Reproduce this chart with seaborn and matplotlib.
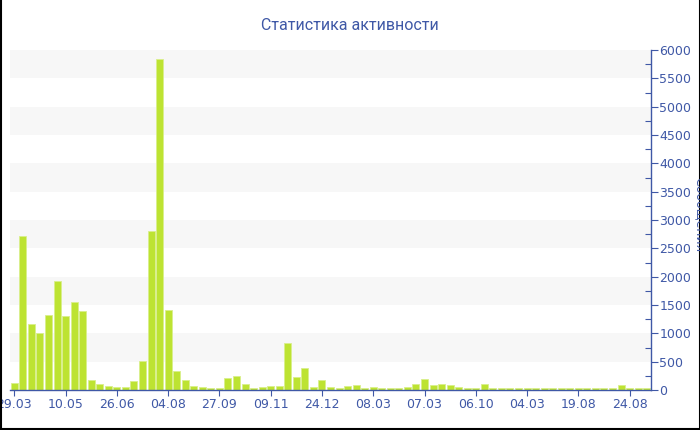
import matplotlib
matplotlib.use("Agg")
import matplotlib.pyplot as plt
from matplotlib.lines import Line2D
from matplotlib.ticker import MultipleLocator
import seaborn as sns
import pandas as pd

# ---- data ----
values = [130, 2720, 1165, 1000, 1318, 1923, 1300, 1547, 1394, 176,
          100, 70, 45, 45, 165, 512, 2806, 5841, 1418, 335,
          170, 76, 53, 35, 35, 218, 247, 100, 40, 53,
          65, 70, 829, 229, 382, 53, 170, 47, 40, 70,
          88, 35, 53, 35, 30, 32, 59, 100, 188, 82,
          100, 80, 56, 38, 30, 106, 40, 32, 32, 30,
          30, 36, 32, 30, 30, 30, 36, 32, 30, 30,
          30, 88, 32, 36, 32]
periods = list(range(len(values)))
tick_positions = [0, 6, 12, 18, 24, 30, 36, 42, 48, 54, 60, 66, 72]
tick_labels = ["29.03", "10.05", "26.06", "04.08", "27.09", "09.11", "24.12",
               "08.03", "07.03", "06.10", "04.03", "19.08", "24.08"]
title = "Статистика активности"
ylabel = "Сообщения"

# ---- style ----
sns.set_theme(style="white")
plt.rcParams["font.family"] = ["DejaVu Sans"]
TXT = "#3f58a6"
BAR = "#bde332"
EDGE = "#d9ef8c"

df = pd.DataFrame({"period": periods, "value": values})

fig = plt.figure(figsize=(7.0, 4.3), dpi=100)
ax = fig.add_axes([10 / 700, 1 - 390 / 430, 641 / 700, 340 / 430])

for lo in range(500, 6000, 1000):
    ax.axhspan(lo, lo + 500, color="#f7f7f7", zorder=0, lw=0)

sns.barplot(data=df, x="period", y="value", color=BAR, ax=ax, width=0.82,
            edgecolor=EDGE, linewidth=0.6, saturation=1, zorder=2)

ax.set_xlim(-0.5, len(values) - 0.5)
ax.set_ylim(0, 6000)
ax.set_xticks(tick_positions)
ax.set_xticklabels(tick_labels)
ax.set_xlabel("")
ax.set_ylabel("")

ax.yaxis.tick_right()
ax.yaxis.set_major_locator(MultipleLocator(500))
ax.yaxis.set_minor_locator(MultipleLocator(250))
ax.tick_params(axis="y", which="major", direction="out", length=5, width=0.8,
               color=TXT, labelcolor=TXT, labelsize=9, pad=1, left=False, right=True)
ax.tick_params(axis="y", which="minor", direction="in", length=4, width=0.8,
               color=TXT, left=False, right=True)
ax.tick_params(axis="x", which="major", direction="out", length=4, width=0.8,
               color=TXT, labelcolor=TXT, labelsize=9, pad=2, bottom=True)

for s in ["left", "top"]:
    ax.spines[s].set_visible(False)
for s in ["right", "bottom"]:
    ax.spines[s].set_color(TXT)
    ax.spines[s].set_linewidth(1.0)
ax.set_facecolor("white")

fig.text(0.5, 1 - 25 / 430, title, ha="center", va="center", color=TXT,
         fontsize=11.5, family=["Roboto", "DejaVu Sans"])
fig.text(699 / 700, 1 - 215 / 430, ylabel, ha="center", va="center", rotation=270,
         color=TXT, fontsize=9)

# figure frame (left, right, bottom)
for xs, ys in [([0.5 / 700, 0.5 / 700], [0, 1]),
               ([699.5 / 700, 699.5 / 700], [0, 1]),
               ([0, 1], [1.5 / 430, 1.5 / 430])]:
    fig.add_artist(Line2D(xs, ys, color="black", lw=1.5, transform=fig.transFigure))

fig.savefig("out.png", dpi=100)
